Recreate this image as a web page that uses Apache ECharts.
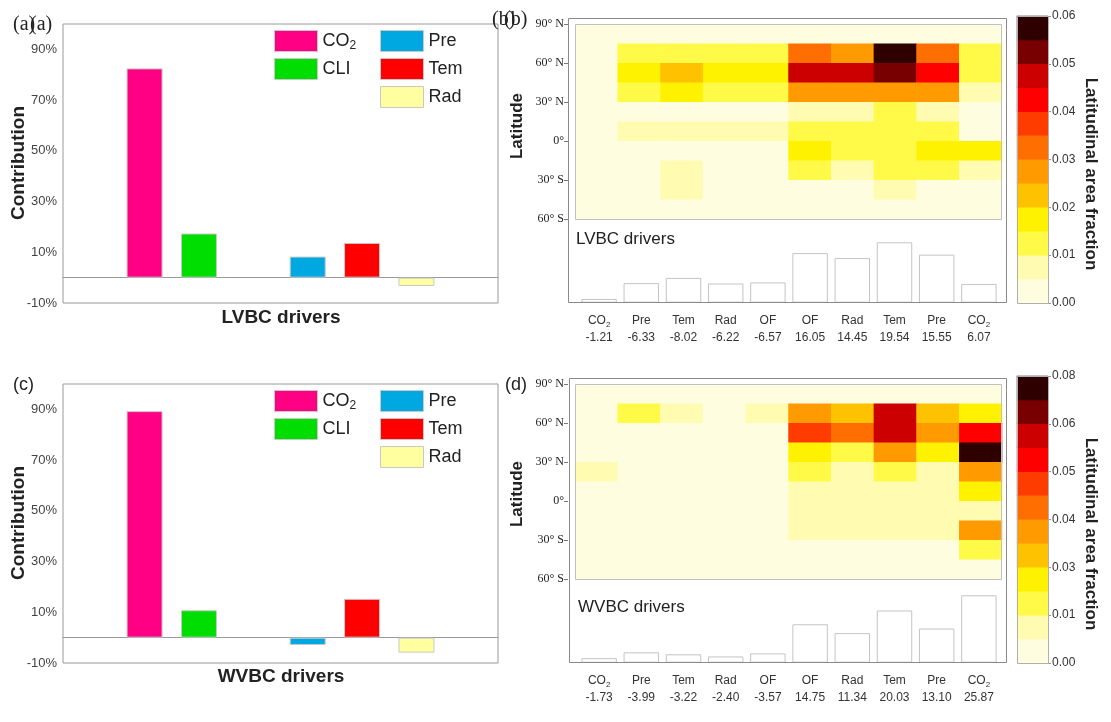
<!DOCTYPE html>
<html><head><meta charset="utf-8">
<script src="https://cdn.jsdelivr.net/npm/echarts@6/dist/echarts.min.js"></script>
<style>html,body{margin:0;padding:0;background:#fff}#c{width:1111px;height:722px}</style>
</head><body><div id="c"></div>
<script>
// ---------- data ----------
const slotCats = ['', 'CO2', 'CLI', '', 'Pre', 'Tem', 'Rad', ''];
const driverNames = ['CO2', 'CLI', 'Pre', 'Tem', 'Rad'];
const driverSlots = [1, 2, 4, 5, 6];
const driverColors = ['#ff0084', '#00dd00', '#00a8e2', '#ff0000', '#ffffa0'];
const lvbcContribution = [82.5, 17.4, 8.3, 13.7, -3.3];
const wvbcContribution = [89.3, 10.8, -2.9, 15.3, -5.9];

const factorNames = ['CO2', 'Pre', 'Tem', 'Rad', 'OF', 'OF', 'Rad', 'Tem', 'Pre', 'CO2'];
const lvbcFactorValues = [-1.21, -6.33, -8.02, -6.22, -6.57, 16.05, 14.45, 19.54, 15.55, 6.07];
const wvbcFactorValues = [-1.73, -3.99, -3.22, -2.40, -3.57, 14.75, 11.34, 20.03, 13.10, 25.87];

const latLabels = ['60° S', '30° S', '0°', '30° N', '60° N', '90° N'];
const heatColors = ['#fffde0', '#fffbb0', '#fffa48', '#fff200', '#ffc200', '#ff9a00',
                    '#ff6e00', '#ff3c00', '#ff0000', '#cc0000', '#780000', '#2e0000'];
const lvbcBarLabels = ['0.00', '0.01', '0.02', '0.03', '0.04', '0.05', '0.06'];
const wvbcBarLabels = ['0.00', '0.01', '0.03', '0.04', '0.05', '0.06', '0.08'];
const lvbcMax = 0.06;
const wvbcMax = 0.08;

// latitude bands top (75-90N) to bottom (60-45S), columns follow factorNames
const lvbcHeat = [
  [.002,.002,.002,.002,.002,.002,.002,.002,.002,.002],
  [.002,.012,.012,.012,.012,.032,.027,.058,.032,.012],
  [.002,.017,.022,.017,.017,.047,.047,.052,.042,.012],
  [.002,.012,.017,.012,.012,.027,.027,.027,.027,.007],
  [.002,.002,.002,.002,.002,.007,.007,.012,.007,.002],
  [.002,.007,.007,.007,.007,.012,.012,.012,.012,.002],
  [.002,.002,.002,.002,.002,.017,.012,.012,.017,.017],
  [.002,.002,.007,.002,.002,.012,.007,.012,.012,.007],
  [.002,.002,.007,.002,.002,.002,.002,.007,.002,.002],
  [.002,.002,.002,.002,.002,.002,.002,.002,.002,.002]
];
const wvbcHeat = [
  [.003,.003,.003,.003,.003,.003,.003,.003,.003,.003],
  [.003,.016,.010,.003,.010,.036,.030,.063,.030,.023],
  [.003,.003,.003,.003,.003,.050,.043,.063,.036,.056],
  [.003,.003,.003,.003,.003,.023,.016,.036,.023,.077],
  [.010,.003,.003,.003,.003,.016,.010,.016,.010,.036],
  [.003,.003,.003,.003,.003,.010,.010,.010,.010,.023],
  [.003,.003,.003,.003,.003,.010,.010,.010,.010,.010],
  [.003,.003,.003,.003,.003,.010,.010,.010,.010,.036],
  [.003,.003,.003,.003,.003,.003,.003,.003,.003,.016],
  [.003,.003,.003,.003,.003,.003,.003,.003,.003,.003]
];

// ---------- build ----------
const SANS = 'Liberation Sans, Arial, sans-serif';
const SERIF = 'Liberation Serif, Times New Roman, serif';
const idx10 = factorNames.map((_, i) => String(i));
const rows10 = Array.from({length: 10}, (_, i) => String(i));
const rows12 = heatColors.map((_, i) => String(i));

function heatData(m) {
  const out = [];
  m.forEach((row, r) => row.forEach((v, c) => out.push([c, 9 - r, v])));
  return out;
}
function pieces(max) {
  const step = max / heatColors.length;
  return heatColors.map((c, i) => i === heatColors.length - 1
    ? {gte: i * step, lte: max + 1, color: c}
    : {gte: i * step, lt: (i + 1) * step, color: c});
}
function cbarData(max) {
  const step = max / heatColors.length;
  return heatColors.map((c, i) => [0, i, (i + 0.5) * step]);
}
function factorLabel(vals) {
  return function (v, i) {
    const n = factorNames[i];
    const nm = n === 'CO2' ? '{n|CO}{s|2}' : '{n|' + n + '}';
    return nm + '\n{v|' + vals[i].toFixed(2) + '}';
  };
}
const factorRich = {
  n: {fontSize: 12, fontFamily: SANS, color: '#333', lineHeight: 16},
  s: {fontSize: 8, fontFamily: SANS, color: '#333', lineHeight: 9, verticalAlign: 'bottom'},
  v: {fontSize: 12, fontFamily: SANS, color: '#333', lineHeight: 17}
};

const grids = [
  {left: 63, top: 24, width: 435, height: 279, show: true, borderColor: '#999', borderWidth: 1},
  {left: 63, top: 384, width: 435, height: 279, show: true, borderColor: '#999', borderWidth: 1},
  {left: 575, top: 24.3, width: 427, height: 195},
  {left: 578, top: 219.3, width: 422, height: 83.4},
  {left: 1017, top: 16, width: 31, height: 287},
  {left: 575, top: 384.3, width: 427, height: 195},
  {left: 578, top: 579.3, width: 422, height: 83.4},
  {left: 1017, top: 376, width: 31, height: 287}
];

const slotX = g => ({type: 'category', gridIndex: g, data: slotCats, boundaryGap: true,
  axisLine: {show: true, onZero: true, lineStyle: {color: '#999', width: 1}},
  axisTick: {show: false}, axisLabel: {show: false}});
const hiddenCat = (g, data) => ({type: 'category', gridIndex: g, data: data, show: false});
const factorX = (g, vals) => ({type: 'category', gridIndex: g, data: idx10,
  axisLine: {show: false}, axisTick: {show: false},
  axisLabel: {formatter: factorLabel(vals), rich: factorRich, margin: 10, interval: 0}});

const xAxes = [slotX(0), slotX(1), hiddenCat(2, idx10), factorX(3, lvbcFactorValues),
  hiddenCat(4, ['c']), hiddenCat(5, idx10), factorX(6, wvbcFactorValues), hiddenCat(7, ['c'])];

const pctY = g => ({type: 'value', gridIndex: g, min: -10, max: 100, interval: 10,
  axisLine: {show: false}, axisTick: {show: false}, splitLine: {show: false},
  axisLabel: {fontFamily: SANS, fontSize: 13, color: '#444', margin: 6,
    showMaxLabel: false,
    formatter: v => ((v + 10) % 20 === 0 && v < 100) ? v + '%' : ''}});
const latY = g => ({type: 'value', gridIndex: g, min: -60, max: 90, interval: 30, offset: 7,
  position: 'left', axisLine: {show: false}, splitLine: {show: false},
  axisTick: {show: true, length: 4, lineStyle: {color: '#777'}},
  axisLabel: {fontFamily: SERIF, fontSize: 12, color: '#222', margin: 4,
    formatter: v => latLabels[Math.round((v + 60) / 30)]}});
const barY = (g, max) => ({type: 'value', gridIndex: g, min: 0, max: max, show: false, splitLine: {show: false}});
const cbarY = (g, labels) => ({type: 'value', gridIndex: g, min: 0, max: 12, interval: 2, position: 'right',
  axisLine: {show: false}, splitLine: {show: false},
  axisTick: {show: true, length: 3, lineStyle: {color: '#999'}},
  axisLabel: {fontFamily: SANS, fontSize: 12, color: '#333', margin: 4,
    formatter: v => labels[Math.round(v / 2)]}});

const yAxes = [pctY(0), pctY(1),
  hiddenCat(2, rows10), latY(2), barY(3, 27), hiddenCat(4, rows12), cbarY(4, lvbcBarLabels),
  hiddenCat(5, rows10), latY(5), barY(6, 32), hiddenCat(7, rows12), cbarY(7, wvbcBarLabels)];

const series = [];
function addDriverBars(vals, xi, yi) {
  driverNames.forEach((name, k) => {
    series.push({type: 'bar', name: name, xAxisIndex: xi, yAxisIndex: yi,
      barWidth: 36, barGap: '-100%',
      itemStyle: {color: driverColors[k], borderColor: '#c8c8c8', borderWidth: 1},
      data: slotCats.map((c, i) => i === driverSlots[k] ? vals[k] : '-'),
      silent: true});
  });
}
addDriverBars(lvbcContribution, 0, 0);
addDriverBars(wvbcContribution, 1, 1);

const heatStart = series.length;
series.push({type: 'heatmap', name: 'lvbcHeat', xAxisIndex: 2, yAxisIndex: 2, data: heatData(lvbcHeat), silent: true});
series.push({type: 'heatmap', name: 'lvbcCbar', xAxisIndex: 4, yAxisIndex: 5, data: cbarData(lvbcMax), silent: true});
series.push({type: 'heatmap', name: 'wvbcHeat', xAxisIndex: 5, yAxisIndex: 7, data: heatData(wvbcHeat), silent: true});
series.push({type: 'heatmap', name: 'wvbcCbar', xAxisIndex: 7, yAxisIndex: 10, data: cbarData(wvbcMax), silent: true});
const factorBar = (vals, xi, yi) => ({type: 'bar', name: 'f' + xi, xAxisIndex: xi, yAxisIndex: yi,
  barWidth: '84%', silent: true,
  itemStyle: {color: '#ffffff', borderColor: '#c4c4c4', borderWidth: 1},
  data: vals.map(v => Math.abs(v))});
series.push(factorBar(lvbcFactorValues, 3, 4));
series.push(factorBar(wvbcFactorValues, 6, 9));

const legendText = {fontFamily: SANS, fontSize: 18, color: '#222',
  rich: {a: {fontFamily: SANS, fontSize: 18, color: '#222', lineHeight: 22},
         s: {fontFamily: SANS, fontSize: 12, color: '#222', lineHeight: 12, verticalAlign: 'bottom'}}};
const legendFmt = n => n === 'CO2' ? '{a|CO}{s|2}' : '{a|' + n + '}';
function legends(top) {
  const base = {orient: 'vertical', icon: 'rect', itemWidth: 43, itemHeight: 21, itemGap: 6,
    selectedMode: false, textStyle: legendText, formatter: legendFmt,
    itemStyle: {borderColor: '#c8c8c8', borderWidth: 1}, padding: 0};
  return [Object.assign({}, base, {left: 274, top: top, data: ['CO2', 'CLI']}),
          Object.assign({}, base, {left: 380, top: top, data: ['Pre', 'Tem', 'Rad']})];
}

function txt(x, y, text, font, opts, rot) {
  return {type: 'text', x: x, y: y, z: 100, rotation: rot || 0, silent: true,
    style: Object.assign({text: text, font: font, fill: '#222', textVerticalAlign: 'middle'}, opts || {})};
}
function rect(x, y, w, h, color) {
  return {type: 'rect', z: 100, shape: {x: x, y: y, width: w, height: h},
    style: {fill: 'none', stroke: color, lineWidth: 1}, silent: true};
}
const C = {textAlign: 'center'};
const UP = Math.PI / 2, DOWN = -Math.PI / 2;

const graphic = [
  txt(13, 25, '(a)', '20px ' + SERIF), txt(30, 25, '(a)', '20px ' + SERIF),
  txt(492, 20, '(b)', '20px ' + SERIF), txt(504, 20, '(b)', '20px ' + SERIF),
  txt(13, 385, '(c)', '18px ' + SANS), txt(505, 385, '(d)', '18px ' + SANS),
  txt(19, 163, 'Contribution', 'bold 19px ' + SANS, C, UP),
  txt(19, 523, 'Contribution', 'bold 19px ' + SANS, C, UP),
  txt(281, 318, 'LVBC drivers', 'bold 19px ' + SANS, C),
  txt(281, 677, 'WVBC drivers', 'bold 19px ' + SANS, C),
  txt(517, 126, 'Latitude', 'bold 17px ' + SANS, C, UP),
  txt(517, 494, 'Latitude', 'bold 17px ' + SANS, C, UP),
  txt(1091, 174, 'Latitudinal area fraction', 'bold 17px ' + SANS, C, DOWN),
  txt(1091, 534, 'Latitudinal area fraction', 'bold 17px ' + SANS, C, DOWN),
  txt(576, 239, 'LVBC drivers', '17px ' + SANS),
  txt(578, 607, 'WVBC drivers', '17px ' + SANS),
  rect(568.5, 18.5, 438, 284, '#8a8a8a'),
  rect(569.5, 378.5, 437, 284, '#8a8a8a'),
  rect(575.5, 24.5, 426, 195, '#c0c0c0'),
  rect(575.5, 384.5, 426, 195, '#c0c0c0'),
  rect(1017.5, 16.5, 31, 287, '#b0b0b0'),
  rect(1017.5, 376.5, 31, 287, '#b0b0b0')
];

const option = {
  backgroundColor: '#fff',
  animation: false,
  grid: grids,
  xAxis: xAxes,
  yAxis: yAxes,
  legend: legends(30).concat(legends(390)),
  visualMap: [
    {type: 'piecewise', show: false, dimension: 2, seriesIndex: [heatStart, heatStart + 1], pieces: pieces(lvbcMax)},
    {type: 'piecewise', show: false, dimension: 2, seriesIndex: [heatStart + 2, heatStart + 3], pieces: pieces(wvbcMax)}
  ],
  series: series,
  graphic: graphic
};
const chart = echarts.init(document.getElementById('c'), null, {renderer: 'canvas'});
chart.setOption(option);
</script></body></html>
